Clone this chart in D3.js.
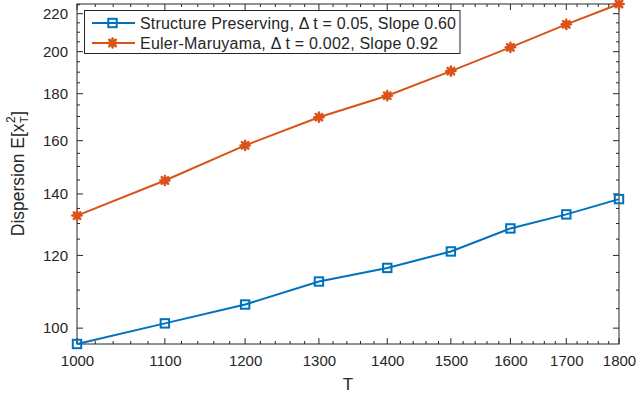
<!DOCTYPE html>
<html>
<head>
<meta charset="utf-8">
<script src="https://cdn.jsdelivr.net/npm/d3@7"></script>
<style>
  body { margin: 0; background: #fff; }
  text { font-family: "Liberation Sans", Arial, Helvetica, sans-serif; fill: #262626; }
</style>
</head>
<body>
<svg id="chart" width="636" height="394"></svg>
<script>
// Final times T
const times = [1000, 1100, 1200, 1300, 1400, 1500, 1600, 1700, 1800];
// Dispersion E[x_T^2] for each scheme
const structurePreserving = [96.1, 101.2, 106.1, 112.4, 116.3, 121.2, 128.4, 133.0, 138.2];
const eulerMaruyama = [132.6, 144.8, 158.1, 169.7, 179.1, 190.5, 202.2, 214.2, 225.4];
const seriesNames = [
  "Structure Preserving, \u0394 t = 0.05, Slope 0.60",
  "Euler-Maruyama, \u0394 t = 0.002, Slope 0.92"
];
const xTicks = [1000, 1100, 1200, 1300, 1400, 1500, 1600, 1700, 1800];
const yTicks = [100, 120, 140, 160, 180, 200, 220];

const svg = d3.select("#chart");
const plotL = 77, plotR = 619, plotT = 4, plotB = 344;
const axisColor = "#262626";

const x = d3.scaleLog().domain([1000, 1800]).range([plotL, plotR]);
const y = d3.scaleLog().domain([96.1, 225.4]).range([plotB, plotT]);

// minor ticks: every 20 on T, every 5 on dispersion
const xMinor = d3.range(1000, 1801, 20).filter(v => v % 100 !== 0);
const yMinor = d3.range(100, 226, 5).filter(v => v % 20 !== 0 && v >= 96.1 && v <= 225.4);

const g = svg.append("g");

function addXTicks(vals, len) {
  vals.forEach(v => {
    const px = x(v);
    g.append("line").attr("x1", px).attr("x2", px).attr("y1", plotB).attr("y2", plotB - len)
      .attr("stroke", axisColor).attr("stroke-width", 1);
    g.append("line").attr("x1", px).attr("x2", px).attr("y1", plotT).attr("y2", plotT + len)
      .attr("stroke", axisColor).attr("stroke-width", 1);
  });
}
function addYTicks(vals, len) {
  vals.forEach(v => {
    const py = y(v);
    g.append("line").attr("x1", plotL).attr("x2", plotL + len).attr("y1", py).attr("y2", py)
      .attr("stroke", axisColor).attr("stroke-width", 1);
    g.append("line").attr("x1", plotR).attr("x2", plotR - len).attr("y1", py).attr("y2", py)
      .attr("stroke", axisColor).attr("stroke-width", 1);
  });
}
addXTicks(xTicks, 6);
addXTicks(xMinor, 3);
addYTicks(yTicks, 6);
addYTicks(yMinor, 3);

// box
g.append("rect").attr("x", plotL).attr("y", plotT).attr("width", plotR - plotL).attr("height", plotB - plotT)
  .attr("fill", "none").attr("stroke", axisColor).attr("stroke-width", 1);

// tick labels
const xAxis = d3.axisBottom(x).tickValues(xTicks).tickFormat(d3.format("d")).tickSize(0).tickPadding(0);
svg.append("g").attr("transform", `translate(0,${plotB})`).call(xAxis)
  .call(s => s.select(".domain").remove())
  .selectAll("text").attr("font-size", 15).attr("dy", 22).attr("fill", axisColor)
  .style("font-family", "Liberation Sans, Arial, sans-serif");

const yAxis = d3.axisLeft(y).tickValues(yTicks).tickFormat(d3.format("d")).tickSize(0).tickPadding(9);
svg.append("g").attr("transform", `translate(${plotL},0)`).call(yAxis)
  .call(s => s.select(".domain").remove())
  .selectAll("text").attr("font-size", 15).attr("fill", axisColor)
  .style("font-family", "Liberation Sans, Arial, sans-serif");

// axis titles
svg.append("text").attr("x", (plotL + plotR) / 2).attr("y", 390).attr("text-anchor", "middle")
  .attr("font-size", 17).text("T");

const yl = svg.append("g").attr("transform", "translate(24,173.5) rotate(-90)");
const main = yl.append("text").attr("font-size", 17.5).attr("x", 0).attr("y", 0).text("Dispersion E[x");
const mainW = main.node().getComputedTextLength();
const sup = yl.append("text").attr("font-size", 12).attr("x", mainW + 0.5).attr("y", -9.5).text("2");
const sub = yl.append("text").attr("font-size", 11).attr("x", mainW + 0.5).attr("y", 3.5).text("T");
const supW = Math.max(sup.node().getComputedTextLength(), sub.node().getComputedTextLength());
const close = yl.append("text").attr("font-size", 17.5).attr("x", mainW + supW + 1).attr("y", 0).text("]");
const totalW = mainW + supW + 1 + close.node().getComputedTextLength();
yl.selectAll("text").each(function() {
  const t = d3.select(this);
  t.attr("x", +t.attr("x") - totalW / 2);
});

const colors = ["#0072BD", "#D95319"];
const line = d3.line().x((d, i) => x(times[i])).y(d => y(d));

// series lines
[structurePreserving, eulerMaruyama].forEach((vals, k) => {
  svg.append("path").datum(vals).attr("d", line).attr("fill", "none")
    .attr("stroke", colors[k]).attr("stroke-width", 2);
});

function squareMarker(sel, cx, cy, color) {
  sel.append("rect").attr("x", cx - 4.2).attr("y", cy - 4.2).attr("width", 8.4).attr("height", 8.4)
    .attr("fill", "none").attr("stroke", color).attr("stroke-width", 2);
}
function starMarker(sel, cx, cy, color) {
  const r = 4.6;
  const gg = sel.append("g").attr("stroke", color).attr("stroke-width", 2.5).attr("stroke-linecap", "round");
  [0, 45, 90, 135].forEach(a => {
    const rad = a * Math.PI / 180;
    gg.append("line")
      .attr("x1", cx - r * Math.cos(rad)).attr("y1", cy - r * Math.sin(rad))
      .attr("x2", cx + r * Math.cos(rad)).attr("y2", cy + r * Math.sin(rad));
  });
  gg.append("circle").attr("cx", cx).attr("cy", cy).attr("r", 3.3).attr("fill", color).attr("stroke", "none");
}

structurePreserving.forEach((v, i) => squareMarker(svg, x(times[i]), y(v), colors[0]));
eulerMaruyama.forEach((v, i) => starMarker(svg, x(times[i]), y(v), colors[1]));

// legend
const leg = svg.append("g");
leg.append("rect").attr("x", 84.5).attr("y", 10.5).attr("width", 375.5).attr("height", 43)
  .attr("fill", "#fff").attr("stroke", axisColor).attr("stroke-width", 1);
const rowsY = [23, 43];
const rowWidths = [316, 298];
seriesNames.forEach((name, k) => {
  leg.append("line").attr("x1", 92).attr("x2", 135).attr("y1", rowsY[k]).attr("y2", rowsY[k])
    .attr("stroke", colors[k]).attr("stroke-width", 2);
  if (k === 0) squareMarker(leg, 112.5, rowsY[k], colors[k]);
  else starMarker(leg, 112.5, rowsY[k], colors[k]);
  leg.append("text").attr("x", 140).attr("y", rowsY[k]).attr("dy", "0.35em")
    .attr("font-size", 16).attr("textLength", rowWidths[k]).attr("lengthAdjust", "spacing")
    .text(name);
});
</script>
</body>
</html>
